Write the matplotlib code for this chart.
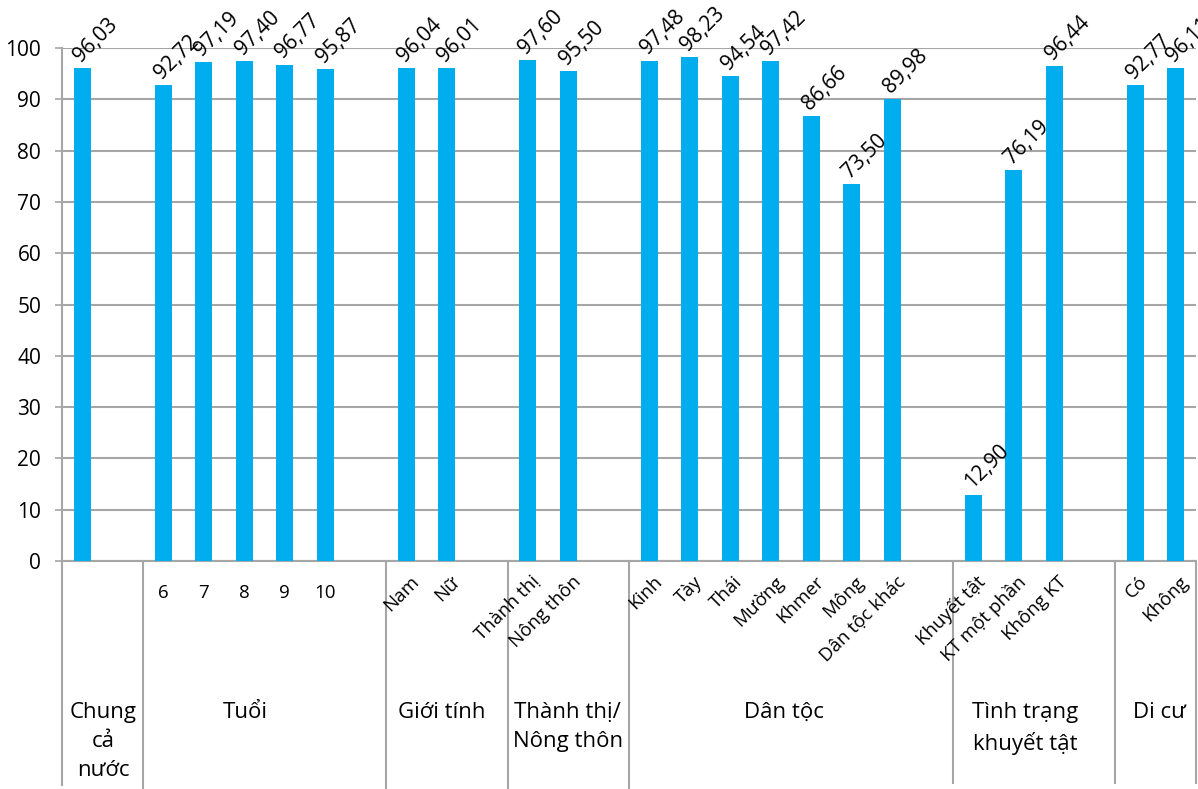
import matplotlib
matplotlib.use("Agg")
import matplotlib.pyplot as plt
import matplotlib.transforms as mtransforms

plt.rcParams['font.family'] = ['Open Sans', 'DejaVu Sans']

# Nhóm, nhóm con và tỷ lệ (%)
groups = ["Chung\ncả\nnước", "Tuổi", "Giới tính", "Thành thị/\nNông thôn",
          "Dân tộc", "Tình trạng\nkhuyết tật", "Di cư"]
subcats = [
    [""],
    ["6", "7", "8", "9", "10"],
    ["Nam", "Nữ"],
    ["Thành thị", "Nông thôn"],
    ["Kinh", "Tày", "Thái", "Mường", "Khmer", "Mông", "Dân tộc khác"],
    ["Khuyết tật", "KT một phần", "Không KT"],
    ["Có", "Không"],
]
values = [
    [96.03],
    [92.72, 97.19, 97.40, 96.77, 95.87],
    [96.04, 96.01],
    [97.60, 95.50],
    [97.48, 98.23, 94.54, 97.42, 86.66, 73.50, 89.98],
    [12.90, 76.19, 96.44],
    [92.77, 96.11],
]

# Vị trí nhãn nhóm (theo ô trên trục x)
group_label_x = [0.51, 4.02, 8.88, 11.99, 17.33, 23.28, 26.59]

BAR_COLOR = "#00AEEF"
LINE_COLOR = "#A6A6A6"

# mỗi nhóm theo sau bởi một ô trống
xs, ys, labels, horiz = [], [], [], []
starts = []
pos = 0
for gi, (subs, vals) in enumerate(zip(subcats, values)):
    starts.append(pos)
    for s, v in zip(subs, vals):
        xs.append(pos)
        ys.append(v)
        labels.append(s)
        horiz.append(gi == 1)
        pos += 1
    if gi < len(groups) - 1:
        pos += 1
n_slots = pos

fig = plt.figure(figsize=(11.98, 7.89), dpi=100)
ax = fig.add_axes([62 / 1198, 228 / 789, (1196 - 62) / 1198, 513 / 789])

ax.bar(xs, ys, width=0.41, color=BAR_COLOR, zorder=3)

ax.set_xlim(-0.5, n_slots - 0.5)
ax.set_ylim(0, 100)
ax.set_yticks(range(0, 101, 10))
ax.yaxis.grid(True, color=LINE_COLOR, linewidth=1.5, zorder=0)
ax.set_xticks([])
ax.tick_params(axis='y', length=5, width=1.2, color=LINE_COLOR, labelsize=15, pad=10)
for side in ["top", "right"]:
    ax.spines[side].set_visible(False)
ax.spines["left"].set_color(LINE_COLOR)
ax.spines["bottom"].set_color(LINE_COLOR)
ax.spines["left"].set_linewidth(1.5)
ax.spines["bottom"].set_linewidth(1.5)

# Nhãn giá trị xoay 45 độ
for x, v in zip(xs, ys):
    ax.annotate(f"{v:.2f}".replace(".", ","), xy=(x, v), xytext=(-1, 4),
                textcoords="offset points", rotation=45, ha="left", va="baseline",
                rotation_mode="anchor", fontsize=15, annotation_clip=False)

# Nhãn nhóm con
trans = mtransforms.blended_transform_factory(ax.transData, ax.transAxes)
for x, lab, h in zip(xs, labels, horiz):
    if not lab:
        continue
    if h:
        ax.text(x, -0.063, lab, transform=trans, ha="center", va="center", fontsize=13.5)
    else:
        ax.annotate(lab, xy=(x, 0), xycoords=trans, xytext=(7, -13),
                    textcoords="offset points", rotation=45, ha="right", va="center",
                    rotation_mode="anchor", fontsize=13.5, annotation_clip=False)

# Đường phân cách giữa các nhóm
sep_x = [s - 0.5 for s in starts] + [n_slots - 0.5]
sep_bottom = [-0.436, -0.444, -0.444, -0.444, -0.444, -0.432, -0.432, -0.432]
for sx, sb in zip(sep_x, sep_bottom):
    ax.plot([sx, sx], [0, sb], transform=trans, color=LINE_COLOR, linewidth=1.5,
            clip_on=False, zorder=1)

# Nhãn nhóm
for gx, g in zip(group_label_x, groups):
    ax.text(gx, -0.274, g, transform=trans, ha="center", va="top", fontsize=16,
            linespacing=1.5)

fig.savefig("out.png", dpi=100)
